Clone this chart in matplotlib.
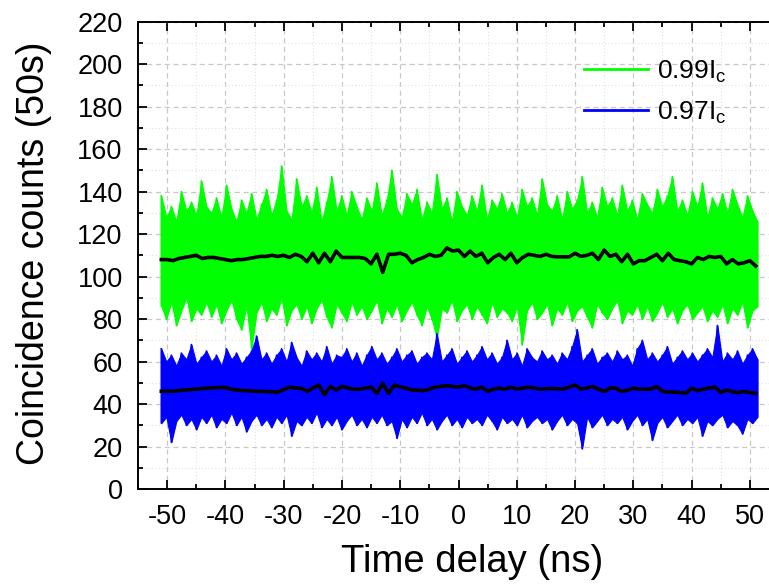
import numpy as np
import matplotlib
matplotlib.use("Agg")
import matplotlib.pyplot as plt
from matplotlib.ticker import MultipleLocator
from matplotlib.lines import Line2D

plt.rcParams['font.family'] = ['Liberation Sans', 'DejaVu Sans']

# ---------------- data ----------------
labels = ['0.99I$_\\mathregular{c}$', '0.97I$_\\mathregular{c}$']
noise_x_range = (-51.0, 51.3)

# local maxima / minima of the raw traces (counts), left to right
green_upper = [138,128,133,126,140,131,135,129,145,133,
               130,137,128,143,132,126,136,130,139,127,
               134,141,129,136,152,131,127,146,133,138,
               130,142,126,135,147,131,138,129,140,133,
               127,137,131,144,129,136,150,132,128,139,
               134,141,127,135,130,148,132,137,126,140,
               133,129,138,131,143,127,136,132,139,130,
               135,128,141,133,137,129,146,134,131,138,
               127,140,132,136,147,130,135,128,142,133,
               137,129,143,131,136,127,139,134,130,141,
               133,138,147,131,136,129,140,133,144,128,
               137,132,139,130,141,134,128,138,131,126]
green_lower = [86,80,88,77,84,90,79,85,82,88,
               81,87,78,84,89,80,75,86,66,83,
               88,79,85,82,90,77,84,87,80,86,
               78,85,89,81,76,87,83,79,88,82,
               86,80,84,89,78,85,81,87,79,84,
               88,82,77,86,80,71,85,83,89,79,
               84,87,80,86,82,78,88,81,85,83,
               79,86,68,84,88,80,83,87,77,85,
               82,88,79,84,86,81,76,87,83,80,
               85,89,78,84,82,87,80,86,79,83,
               88,81,85,78,84,87,80,83,86,79,
               84,81,87,78,85,82,88,76,84,86]
blue_upper = [66,60,63,58,64,61,68,59,62,65,
              60,63,58,66,61,64,59,62,65,72,
              61,64,59,63,66,60,69,62,58,65,
              61,64,60,67,59,63,62,66,60,64,
              58,63,67,61,64,59,62,66,60,63,
              65,59,62,64,61,73,60,63,66,59,
              62,65,60,63,67,61,64,59,62,70,
              61,64,58,66,62,60,65,61,63,59,
              64,61,67,75,60,63,66,59,62,64,
              60,65,61,63,58,66,70,61,64,60,
              63,67,59,62,65,61,64,60,63,66,
              62,77,60,64,61,65,59,63,66,61]
blue_lower = [31,34,22,32,35,30,33,28,34,31,
              35,29,33,31,36,30,34,27,32,35,
              30,33,29,34,31,35,25,32,30,34,
              31,36,29,33,30,34,28,32,35,30,
              33,29,34,31,35,30,32,24,33,29,
              34,31,36,30,33,28,32,35,30,33,
              29,34,31,33,30,35,32,28,34,31,
              33,30,35,29,32,34,31,33,28,32,
              35,30,33,31,19,34,29,32,35,30,
              33,31,34,28,32,35,30,33,23,31,
              34,29,32,35,30,33,31,34,25,32,
              30,33,35,29,32,30,26,33,31,34]

# 1-ns averaged curves (black), delay -51 ... 51 ns
avg_delay = list(range(-51, 52))
green_avg = [108,108,107.5,108.5,109,109.5,110,108.5,109,109,
             108.5,108,107.5,108,108,108.5,109,109.5,109.5,110,
             109.5,110,109,110.5,109.5,107,111,106.5,111,107,
             112,109,109,109,109,108.5,106,110.5,102,110.5,
             110.5,111,110,106.5,108,109,110.5,109.5,110,113.5,
             112,112.5,109.5,112,109.5,111,106.5,109,110.5,108,
             111,106.5,109,110.5,110,109.5,110.5,109.5,109.3,109.3,
             109.3,111,109.5,110,111,108,112.5,109.5,110.5,107,
             110.5,106,107.5,107.5,109,110.5,107.5,111,108,107.5,
             107,106,109,108,109.5,109,109.5,106,108,106,
             106.5,107.5,105]
blue_avg = [46,46,46,46.3,46.6,46.8,47,47.3,47.5,47.6,
            47.8,47.8,47,46.6,46.3,46.3,46,46,45.9,45.8,
            45.6,46.8,48,47.5,47.5,45.9,47.5,49,44.3,48.3,
            46.6,48.3,47.5,47,47,47.5,48,45,49.8,45,
            49,48,47.5,46.6,46.5,46.3,47,48,48.3,48.6,
            48.3,48,48.6,47.5,47,48,45.9,47,47.5,47,
            48,47,47.5,48,47.5,47,47.2,47.3,47.2,47,
            48,49,47,47.5,48.3,47,45.9,47.5,47.5,45.9,
            46.5,47.5,47,47,47,48.3,45.9,45.8,45.6,45.4,
            45,47.5,46.3,47,47.5,48,45.4,46.6,45.8,45.4,
            45.9,45.4,45]

x_ticks = [-50, -40, -30, -20, -10, 0, 10, 20, 30, 40, 50]
y_ticks = [0, 20, 40, 60, 80, 100, 120, 140, 160, 180, 200, 220]

# ---------------- figure ----------------
W, H = 769, 587
fig = plt.figure(figsize=(W / 100, H / 100), dpi=100)
ax_l, ax_r, ax_t, ax_b = 138, 779, 21.7, 489
ax = fig.add_axes([ax_l / W, (H - ax_b) / H, (ax_r - ax_l) / W, (ax_b - ax_t) / H])

handles = []
for up, lo, col, lab in [(green_upper, green_lower, '#00ff00', labels[0]),
                         (blue_upper, blue_lower, '#0000ff', labels[1])]:
    xs = np.linspace(noise_x_range[0], noise_x_range[1], len(up))
    ax.fill_between(xs, lo, up, facecolor=col, edgecolor=col, lw=0.8, zorder=2)
    # raw trace zig-zag between successive extremes
    xz = np.empty(2 * len(up))
    yz = np.empty(2 * len(up))
    xz[0::2] = xs
    xz[1::2] = xs
    yz[0::2] = up
    yz[1::2] = lo
    ax.plot(xz, yz, color=col, lw=1.2, zorder=2)
    handles.append(Line2D([], [], color=col, lw=2.0, label=lab))

ax.plot(avg_delay, green_avg, color='black', lw=2.6, zorder=3)
ax.plot(avg_delay, blue_avg, color='black', lw=2.6, zorder=3)

ax.set_xlim(-55, 55)
ax.set_ylim(0, 220)
ax.set_xticks(x_ticks)
ax.set_xticklabels([str(v) for v in x_ticks])
ax.set_yticks(y_ticks)
ax.set_yticklabels([str(v) for v in y_ticks])
ax.xaxis.set_minor_locator(MultipleLocator(5))
ax.yaxis.set_minor_locator(MultipleLocator(10))

ax.grid(True, which='major', color='#c8c8c8', ls=(0, (4, 3)), lw=0.9, zorder=0)
ax.grid(True, which='minor', color='#e2e2e2', ls=(0, (1, 2)), lw=0.8, zorder=0)
ax.set_axisbelow(True)

for s in ['left', 'bottom', 'top']:
    ax.spines[s].set_linewidth(1.4)
ax.spines['right'].set_visible(False)

ax.tick_params(which='both', direction='in', top=True, right=False, width=1.3,
               labelsize=19.5, colors='black')
ax.tick_params(which='major', length=6.5)
ax.tick_params(which='minor', length=3.3)
ax.tick_params(axis='y', pad=11)
ax.tick_params(axis='x', pad=11)

ax.set_xlabel('Time delay (ns)', fontsize=27.5)
ax.set_ylabel('Coincidence counts (50s)', fontsize=27)
ax.xaxis.set_label_coords(0.522, -0.118)
ax.yaxis.set_label_coords(-0.134, 0.504)

leg = ax.legend(handles=handles, loc='upper left', bbox_to_anchor=(0.68, 0.944),
                frameon=False, fontsize=19, handlelength=2.4, handletextpad=0.35,
                labelspacing=0.55, borderaxespad=0)

fig.savefig('out.png', dpi=100)
